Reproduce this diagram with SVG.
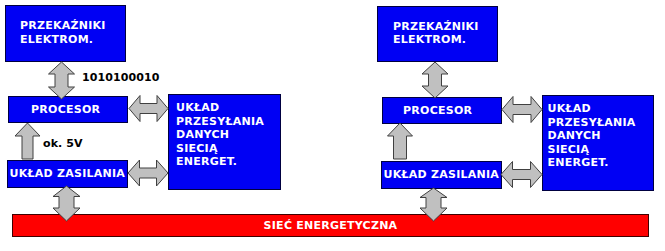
<svg xmlns="http://www.w3.org/2000/svg" width="665" height="251" viewBox="0 0 665 251">
<style>
.box{fill:#0000f4;stroke:#000040;stroke-width:1}
.red{fill:#ff0000;stroke:#400000;stroke-width:1}
.t{font-family:"DejaVu Sans",Verdana,sans-serif;font-weight:bold;font-size:11px;letter-spacing:0.25px;fill:#ffffff}
.lbl{font-family:"DejaVu Sans",Verdana,sans-serif;font-weight:bold;font-size:11px;letter-spacing:0.1px;fill:#000000}
.arr{fill:#c0c0c0;stroke:#404040;stroke-width:1;stroke-linejoin:miter}
</style>
<rect width="665" height="251" fill="#ffffff"/>
<g id="siec">
<rect class="red" x="12.5" y="214.5" width="636" height="22"/>
<text class="t" x="330.5" y="229" text-anchor="middle">SIEĆ ENERGETYCZNA</text>
</g>
<g id="przekazniki-l">
<rect class="box" x="5.5" y="5.5" width="120" height="56"/>
<text class="t" x="20" y="29">PRZEKAŹNIKI</text>
<text class="t" x="20" y="42.5">ELEKTROM.</text>
</g>
<g id="procesor-l">
<rect class="box" x="8.5" y="96.5" width="119" height="26"/>
<text class="t" x="31" y="113">PROCESOR</text>
</g>
<g id="przesylanie-l">
<rect class="box" x="168.5" y="94.5" width="112" height="95"/>
<text class="t" x="176" y="111">UKŁAD</text>
<text class="t" x="176" y="124.5">PRZESYŁANIA</text>
<text class="t" x="176" y="138">DANYCH</text>
<text class="t" x="176" y="151.5">SIECIĄ</text>
<text class="t" x="176" y="165">ENERGET.</text>
</g>
<g id="zasilanie-l">
<rect class="box" x="7.5" y="160.5" width="120" height="27"/>
<text class="t" x="9.5" y="177">UKŁAD ZASILANIA</text>
</g>
<g id="przekazniki-r">
<rect class="box" x="377.5" y="6.5" width="120" height="55"/>
<text class="t" x="393" y="29.5">PRZEKAŹNIKI</text>
<text class="t" x="393" y="43">ELEKTROM.</text>
</g>
<g id="procesor-r">
<rect class="box" x="382.5" y="97.5" width="119" height="26"/>
<text class="t" x="403" y="113.5">PROCESOR</text>
</g>
<g id="przesylanie-r">
<rect class="box" x="542.5" y="95.5" width="111" height="95"/>
<text class="t" x="547.5" y="112">UKŁAD</text>
<text class="t" x="547.5" y="125.5">PRZESYŁANIA</text>
<text class="t" x="547.5" y="139">DANYCH</text>
<text class="t" x="547.5" y="152.5">SIECIĄ</text>
<text class="t" x="547.5" y="166">ENERGET.</text>
</g>
<g id="zasilanie-r">
<rect class="box" x="381.5" y="161.5" width="120" height="27"/>
<text class="t" x="383.5" y="178">UKŁAD ZASILANIA</text>
</g>
<g id="connectors">
<polygon class="arr" points="61.5,62 74.5,74 68,74 68,87 74.5,87 61.5,99 48.5,87 55,87 55,74 48.5,74"/>
<polygon class="arr" points="66.5,186 80,196.5 74,196.5 74,208 80,208 66.5,221 53,208 59,208 59,196.5 53,196.5"/>
<polygon class="arr" points="129,108.5 140,95.5 140,103.5 157,103.5 157,95.5 168,108.5 157,121.5 157,113.5 140,113.5 140,121.5"/>
<polygon class="arr" points="128,173 139.5,160 139.5,168 156.5,168 156.5,160 168,173 156.5,186 156.5,178 139.5,178 139.5,186"/>
<polygon class="arr" points="27.5,123 40,136 33,136 33,159 22,159 22,136 15,136"/>
<polygon class="arr" points="435,62 448,74 441.5,74 441.5,86 448,86 435,98 422,86 428.5,86 428.5,74 422,74"/>
<polygon class="arr" points="433.5,188 447,197.5 441,197.5 441,208 447,208 433.5,221 420,208 426,208 426,197.5 420,197.5"/>
<polygon class="arr" points="502,109.5 513,96.5 513,104.5 531,104.5 531,96.5 542,109.5 531,122.5 531,114.5 513,114.5 513,122.5"/>
<polygon class="arr" points="501,174.5 512.5,161.5 512.5,169.5 530.5,169.5 530.5,161.5 542,174.5 530.5,187.5 530.5,179.5 512.5,179.5 512.5,187.5"/>
<polygon class="arr" points="400,123 412.5,136 406.5,136 406.5,159 393.5,159 393.5,136 387.5,136"/>
<text class="lbl" x="82" y="81">1010100010</text>
<text class="lbl" x="43" y="146.5">ok. 5V</text>
</g>
</svg>
